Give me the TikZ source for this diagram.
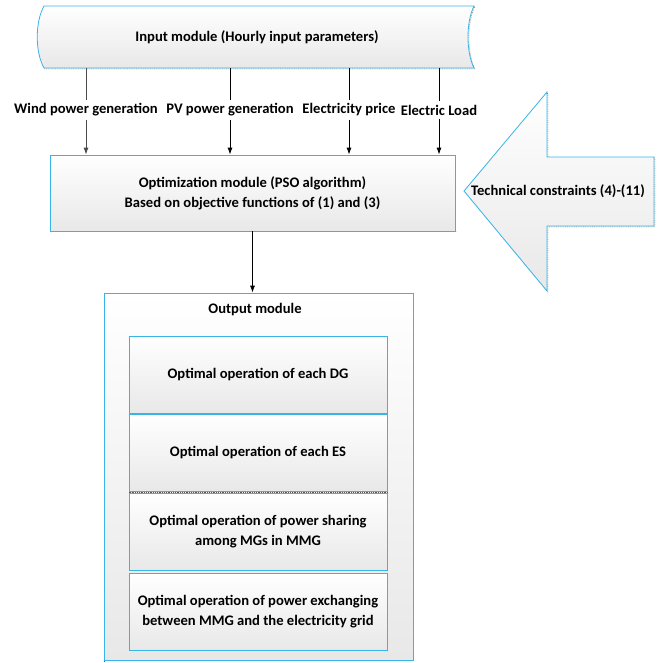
\documentclass[tikz,border=0pt]{standalone}
\usepackage{fontspec}
\setmainfont{Carlito}
\usetikzlibrary{arrows,arrows.meta}
\usetikzlibrary{shapes,shadows}

\definecolor{edgeblue}{RGB}{56,180,232}

\begin{document}
\begin{tikzpicture}
      [x=1pt,y=-1pt,
        every node/.style={font=\bfseries\fontsize{14.6}{20}\selectfont},
        module/.style={draw=edgeblue,line width=.8pt,top color=white,bottom color=black!9,
          general shadow={draw=black!65,densely dotted,shadow xshift=.8pt,shadow yshift=-.8pt}},
        sub/.style={module,minimum width=258,minimum height=77,align=center,inner sep=0pt},
        feed/.style={-{Latex[length=7pt,width=5pt]},line width=.8pt}]
  \useasboundingbox (0,0) rectangle (670,662);
  % input module (curved sides)
  \path[module] (44,6) -- (474,6) .. controls (466,22) and (466,52) .. (474,68)
    -- (44,68) .. controls (35,52) and (35,22) .. (44,6) -- cycle;
  \node[minimum width=430,minimum height=62,inner sep=0pt] (inmod) at (257,37)
    {Input module (Hourly input parameters)};
  % hourly inputs
  \node (wind) at (86,110) {Wind power generation};
  \node (pv) at (230,110) {PV power generation};
  \node (price) at (349,110) {Electricity price};
  \node (load) at (439,110) {Electric Load};
  % optimization
  \node[module,minimum width=405,minimum height=76,align=center] (opt) at (252.5,193)
    {Optimization module (PSO algorithm)\\Based on objective functions of (1) and (3)};
  \draw[line width=.8pt,black!70] (inmod.south -| wind) -- (wind.north);
  \draw[feed,black!70] (wind.south) -- (opt.north -| wind);
  \draw[line width=.8pt] (inmod.south -| pv) -- (pv.north);
  \draw[feed] (pv.south) -- (opt.north -| pv);
  \draw[line width=.8pt] (inmod.south -| price) -- (price.north);
  \draw[feed] (price.south) -- (opt.north -| price);
  \draw[line width=.8pt] (inmod.south -| load) -- (load.north);
  \draw[feed] (load.south) -- (opt.north -| load);
  % constraints arrow
  \path[module] (464,191) -- (547,92) -- (547,157) -- (654,157) -- (654,226)
    -- (547,226) -- (547,291) -- cycle;
  \node (tech) at (558,191) {Technical constraints (4)-(11)};
  % output
  \node[module,minimum width=309,minimum height=367] (outmod) at (258.5,476.5) {};
  \node (outlbl) at (255,310) {Output module};
  \node[sub] (dg) at (258,374.5) {Optimal operation of each DG};
  \node[sub] (es) at (258,453) {Optimal operation of each ES};
  \node[sub] (share) at (258,531.5) {Optimal operation of power sharing\\among MGs in MMG};
  \node[sub] (grid) at (258,611.5) {Optimal operation of power exchanging\\between MMG and the electricity grid};
  \draw[feed] (opt.south) -- (opt.south |- outmod.north);
\end{tikzpicture}
\end{document}
